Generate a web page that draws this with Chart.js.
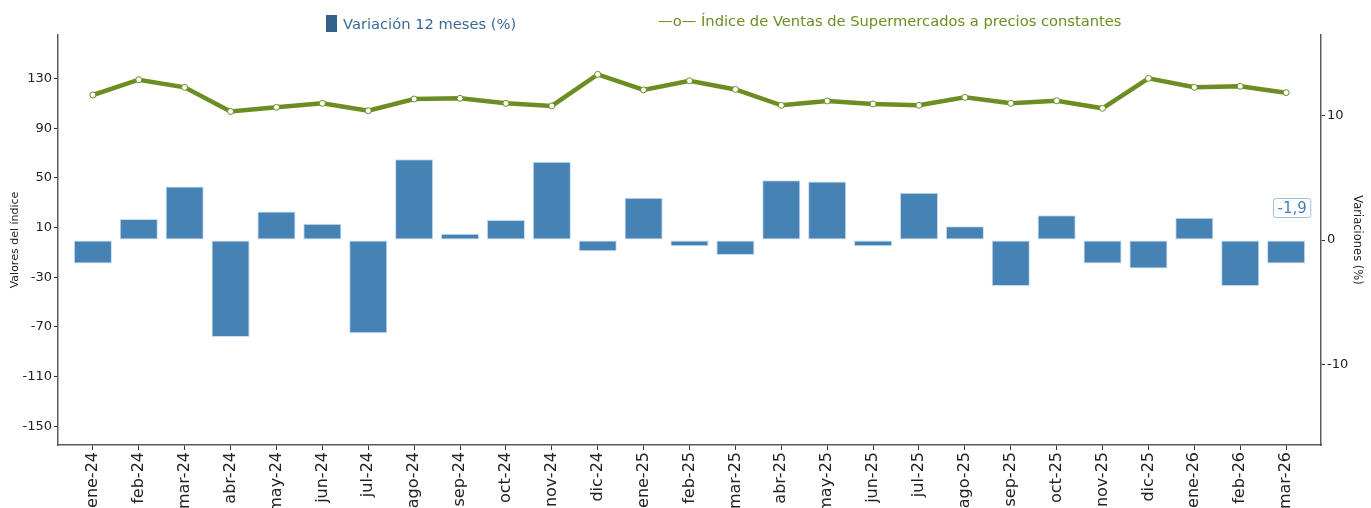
<!DOCTYPE html>
<html lang="es">
<head>
<meta charset="utf-8">
<title>Índice de Ventas de Supermercados</title>
<script src="https://cdn.jsdelivr.net/npm/chart.js@4.4.1/dist/chart.umd.min.js"></script>
<style>
  html, body { margin: 0; padding: 0; background: #fff; }
  #wrap { position: relative; width: 1371px; height: 508px; }
  #chart { position: absolute; left: 0; top: 0; }
  .lg { position: absolute; font-family: "DejaVu Sans", sans-serif; font-size: 14.7px; line-height: 17px; white-space: nowrap; }
  #lg-bar { left: 326px; top: 15px; color: #3b6996; }
  #lg-bar .sw { display: inline-block; width: 11px; height: 17px; background: #335f8b; vertical-align: top; margin-right: 6px; }
  #lg-line { left: 658px; top: 12px; color: #6b8e23; }
</style>
</head>
<body>
<div id="wrap">
  <canvas id="chart" width="1371" height="508"></canvas>
  <div class="lg" id="lg-bar"><span class="sw"></span>Variación 12 meses (%)</div>
  <div class="lg" id="lg-line">—o— Índice de Ventas de Supermercados a precios constantes</div>
</div>
<script>
(function () {
  "use strict";

  // ── Data ───────────────────────────────────
  const MESES = [
    "ene-24","feb-24","mar-24","abr-24","may-24","jun-24","jul-24","ago-24","sep-24",
    "oct-24","nov-24","dic-24","ene-25","feb-25","mar-25","abr-25","may-25","jun-25",
    "jul-25","ago-25","sep-25","oct-25","nov-25","dic-25","ene-26","feb-26","mar-26"
  ];
  // Variación 12 meses (%) — right axis
  const VARIACION = [
    -1.9, 1.7, 4.3, -7.8, 2.3, 1.3, -7.5, 6.5, 0.5,
    1.6, 6.3, -0.9, 3.4, -0.5, -1.2, 4.8, 4.7, -0.5,
    3.8, 1.1, -3.7, 2.0, -1.9, -2.3, 1.8, -3.7, -1.9
  ];
  // Índice de Ventas a precios constantes — left axis
  const INDICE = [
    116.7, 129.0, 122.9, 103.5, 106.8, 110.0, 104.1, 113.5, 114.0,
    110.0, 107.9, 133.3, 120.8, 128.2, 121.2, 108.4, 111.9, 109.5,
    108.4, 114.8, 110.0, 112.1, 106.0, 130.1, 122.9, 123.7, 118.6
  ];
  const LEFT_TICKS  = [130, 90, 50, 10, -30, -70, -110, -150];
  const RIGHT_TICKS = [10, 0, -10];

  // ── Style ──────────────────────────────────
  const FONT   = "'DejaVu Sans', sans-serif";
  const BLUE   = "#4682b4";
  const OLIVE  = "#6b8e23";
  const AXIS   = "#5a5a5a";
  const TEXT   = "#222";

  Chart.defaults.font.family = FONT;
  Chart.defaults.color = TEXT;

  // label box over the last bar
  const lastValueBox = {
    id: "lastValueBox",
    afterDatasetsDraw(chart) {
      const { ctx, scales } = chart;
      const i = VARIACION.length - 1;
      const txt = VARIACION[i].toFixed(1).replace(".", ",");
      const x = scales.x.getPixelForValue(i) + 6;
      const y = scales.yR.getPixelForValue(0) - 32;
      ctx.save();
      ctx.font = "15px " + FONT;
      const w = ctx.measureText(txt).width + 8;
      const h = 19;
      ctx.beginPath();
      ctx.roundRect(x - w / 2, y - h / 2, w, h, 2);
      ctx.fillStyle = "#fff";
      ctx.fill();
      ctx.strokeStyle = "#9cc0e0";
      ctx.lineWidth = 1;
      ctx.stroke();
      ctx.fillStyle = BLUE;
      ctx.textAlign = "center";
      ctx.textBaseline = "middle";
      ctx.fillText(txt, x, y + 1);
      ctx.restore();
    }
  };

  const pts = (arr) => arr.map((v, i) => ({ x: i, y: v }));

  new Chart(document.getElementById("chart"), {
    data: {
      datasets: [
        {
          type: "line",
          label: "Índice de Ventas de Supermercados a precios constantes",
          data: pts(INDICE),
          yAxisID: "yL",
          xAxisID: "x",
          order: 0,
          borderColor: OLIVE,
          borderWidth: 4.5,
          pointRadius: 3,
          pointBorderWidth: 1,
          pointBackgroundColor: "#fff",
          pointBorderColor: OLIVE,
          tension: 0
        },
        {
          type: "bar",
          label: "Variación 12 meses (%)",
          data: pts(VARIACION),
          yAxisID: "yR",
          xAxisID: "x",
          order: 1,
          backgroundColor: BLUE,
          borderColor: "rgba(190,215,240,0.9)",
          borderWidth: 1,
          borderSkipped: false,
          categoryPercentage: 1,
          barPercentage: 0.83
        }
      ]
    },
    options: {
      responsive: false,
      animation: false,
      devicePixelRatio: 1,
      layout: { padding: { top: 35, left: 0, right: 0, bottom: 0 } },
      plugins: {
        legend: { display: false },
        tooltip: { enabled: false }
      },
      scales: {
        x: {
          type: "linear",
          position: "bottom",
          offset: false,
          min: -0.76,
          max: MESES.length - 0.24,
          afterBuildTicks: (s) => { s.ticks = MESES.map((_, i) => ({ value: i })); },
          afterFit: (s) => { s.height = 63; },
          ticks: {
            callback: (v) => MESES[v],
            autoSkip: false,
            minRotation: 90,
            maxRotation: 90,
            padding: 2,
            color: TEXT,
            font: { size: 16 }
          },
          grid: { offset: false, drawOnChartArea: false, drawTicks: true, tickLength: 5, tickColor: "#333", tickWidth: 1 },
          border: { display: true, color: AXIS, width: 1.5 }
        },
        yL: {
          position: "left",
          min: -165,
          max: 165,
          afterBuildTicks: (s) => { s.ticks = LEFT_TICKS.map((v) => ({ value: v })); },
          afterFit: (s) => { s.width = 58; },
          ticks: { padding: 2, color: TEXT, font: { size: 13 } },
          grid: { drawOnChartArea: false, drawTicks: true, tickLength: 4, tickColor: "#333", tickWidth: 1 },
          border: { display: true, color: AXIS, width: 1.5 },
          title: { display: true, text: "Valores del índice", color: TEXT, font: { size: 11 }, padding: { top: 9, bottom: 0 } }
        },
        yR: {
          position: "right",
          min: -16.5,
          max: 16.5,
          afterBuildTicks: (s) => { s.ticks = RIGHT_TICKS.map((v) => ({ value: v })); },
          afterFit: (s) => { s.width = 50; },
          ticks: { padding: 2, color: TEXT, font: { size: 13 } },
          grid: { drawOnChartArea: false, drawTicks: true, tickLength: 4, tickColor: "#333", tickWidth: 1 },
          border: { display: true, color: AXIS, width: 1.5 },
          title: { display: true, text: "Variaciones (%)", color: TEXT, font: { size: 11.5 }, padding: { top: 7, bottom: 0 } }
        }
      }
    },
    plugins: [lastValueBox]
  });
})();
</script>
</body>
</html>
